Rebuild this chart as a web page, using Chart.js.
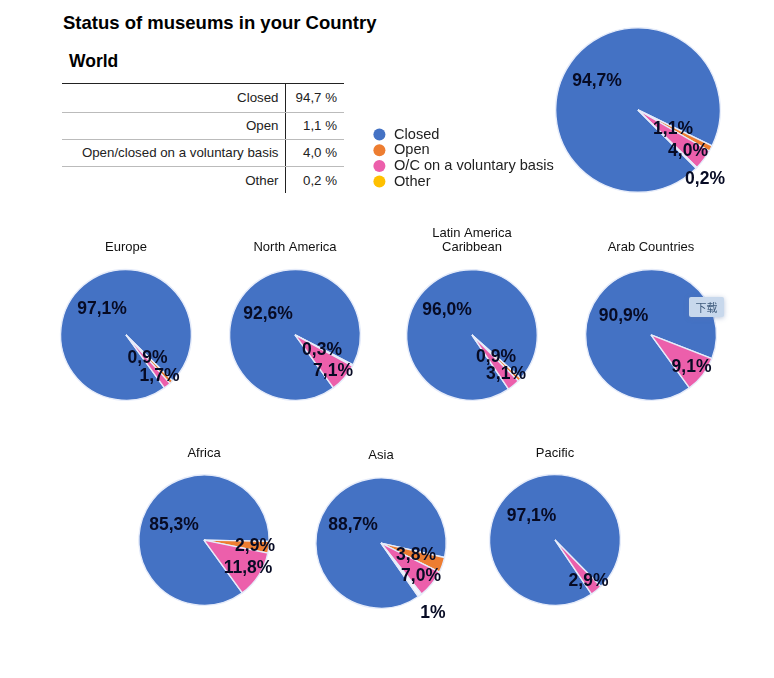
<!DOCTYPE html>
<html><head><meta charset="utf-8">
<script src="https://cdn.jsdelivr.net/npm/chart.js@4"></script>
<style>
html,body{margin:0;padding:0;background:#fff;width:774px;height:678px;overflow:hidden;font-family:"Liberation Sans",Arial,sans-serif;color:#111}
canvas{position:absolute}
.abs{position:absolute;white-space:nowrap}
#main{left:63px;top:12px;font-size:18.5px;font-weight:bold;line-height:22px;color:#000}
#region{left:69px;top:51px;font-size:17.5px;font-weight:bold;line-height:20px;color:#000}
table{position:absolute;left:62px;top:83px;width:282px;border-collapse:collapse;border-top:1.6px solid #222;table-layout:fixed;font-size:13.3px;color:#222}
td{height:26px;padding:0;border-bottom:1px solid #bbb;text-align:right;line-height:26px}
tr:first-child td{height:26.5px;line-height:28px}
tr:last-child td{border-bottom:none;height:26px;line-height:25px}
td.k{width:223px;padding-right:6px;border-right:1.6px solid #222;box-sizing:border-box}
td.v{padding-right:7px}
#dl{left:689px;top:297px;width:35px;height:20px;line-height:20px;text-align:center;background:#c8d8ec;border-radius:2px;box-shadow:0 1px 5px rgba(90,120,170,.45);font:11px/20px "Noto Sans CJK SC",sans-serif;color:#3f5b7c}
</style></head><body>
<div class="abs" id="main"></div>
<div class="abs" id="region"></div>
<table id="tbl"></table>
<canvas id="world"></canvas>
<div id="pies"></div>
<div class="abs" id="dl">下载</div>
<script>
const mainTitle = "Status of museums in your Country";
const regionTitle = "World";
const seriesNames = ["Closed", "Open", "O/C on a voluntary basis", "Other"];
const tableNames = ["Closed", "Open", "Open/closed on a voluntary basis", "Other"];
const tableValues = ["94,7 %", "1,1 %", "4,0 %", "0,2 %"];

const worldValues = [94.7, 1.1, 4.0, 0.2];
const europeValues = [97.1, 0.9, 1.7, 0];
const northAmericaValues = [92.6, 0.3, 7.1, 0];
const latinValues = [96.0, 0.9, 3.1, 0];
const arabValues = [90.9, 0, 9.1, 0];
const africaValues = [85.3, 2.9, 11.8, 0];
const asiaValues = [88.7, 3.8, 7.0, 1];
const pacificValues = [97.1, 0, 2.9, 0];

const legendColors = ["#4472C4", "#ED7D31", "#EC5FAB", "#FFC000"];
const sliceColors = ["#4472C4", "#ED7D31", "#EC5FAB", "#F4F6FD"];
const edge = "#E6ECFA";
const ink = "#070B24";
const R = 65;

function fmt(v){ return v === 1 ? "1%" : v.toFixed(1).replace(".", ",") + "%"; }

document.getElementById("main").textContent = mainTitle;
document.getElementById("region").textContent = regionTitle;
document.getElementById("tbl").innerHTML = tableNames.map((n,i)=>`<tr><td class="k">${n}</td><td class="v">${tableValues[i]}</td></tr>`).join("");

const labelPlugin = {
  id: "sliceLabels",
  afterDatasetsDraw(chart, args, opts){
    const arc = chart.getDatasetMeta(0).data[0];
    const ctx = chart.ctx;
    ctx.save();
    ctx.font = "bold 17.5px 'Liberation Sans', Arial, sans-serif";
    ctx.fillStyle = ink;
    ctx.textAlign = "center";
    ctx.textBaseline = "middle";
    chart.data.datasets[0].data.forEach((v,i)=>{
      const o = opts.offsets[i];
      if(!o) return;
      ctx.fillText(fmt(v), arc.x + o[0], arc.y + o[1]);
    });
    ctx.restore();
  }
};
const legendNudge = {
  id: "legendNudge",
  beforeDraw(chart){ chart.legend.bottom -= 3; }
};

function baseOptions(rotation, offsets){
  return {
    responsive:false, animation:false, rotation,
    plugins:{ tooltip:{enabled:false}, legend:{display:false}, sliceLabels:{offsets} }
  };
}
function dataset(values){
  return { labels:seriesNames, datasets:[{ data:values, backgroundColor:sliceColors, borderColor:edge, borderWidth:1.4 }] };
}

/* World pie with the native legend */
(function(){
  const c = document.getElementById("world");
  c.width = 365; c.height = 180; c.style.left = "365px"; c.style.top = "20px";
  const opt = baseOptions(135, [[-41,-29],[35,19],[50,41],[67,69]]);
  opt.layout = {padding:{top:7,bottom:7,right:9,left:6}};
  opt.plugins.legend = {
    display:true, position:"left", align:"end", maxWidth:184,
    labels:{ usePointStyle:true, pointStyle:"circle", boxWidth:15.4, boxHeight:8.5, padding:1.1,
      color:"#222", font:{family:"'Liberation Sans', Arial, sans-serif", size:14.6, lineHeight:1},
      generateLabels(){ return seriesNames.map((t,i)=>({text:t, fillStyle:legendColors[i], strokeStyle:legendColors[i], lineWidth:0, pointStyle:"circle", hidden:false, index:i, fontColor:"#222"})); } }
  };
  new Chart(c, {type:"pie", data:dataset(worldValues), options:opt, plugins:[labelPlugin, legendNudge]});
})();

/* Regional pies */
const regionPies = [
  {title:"Europe", values:europeValues, cx:125.5, cy:335, ty:248, rot:144, off:[[-24,-26],[21.5,23],[33.5,41]]},
  {title:"North America", values:northAmericaValues, cx:295, cy:335, ty:248, rot:144, off:[[-27,-21],[27,15],[38,36]]},
  {title:["Latin America","Caribbean"], values:latinValues, cx:472, cy:335, ty:233, rot:146, off:[[-25,-25],[24,22],[34,39]]},
  {title:"Arab Countries", values:arabValues, cx:650.5, cy:335, ty:248, rot:144, off:[[-27.5,-19],null,[40.5,32]]},
  {title:"Africa", values:africaValues, cx:204, cy:540.5, ty:454, rot:144, off:[[-30,-15],[51,6.5],[44,28.5]]},
  {title:"Asia", values:asiaValues, cx:381, cy:543.5, ty:456, rot:145, off:[[-28,-17.5],[35,12.5],[40,33.5],[52,70.5]]},
  {title:"Pacific", values:pacificValues, cx:554.5, cy:540, ty:454, rot:146, off:[[-23.5,-24],null,[33.5,41]]}
];
const host = document.getElementById("pies");
regionPies.forEach(p=>{
  const lines = Array.isArray(p.title) ? p.title.length : 1;
  const lh = lines > 1 ? 14 : 15.6;
  const top = p.ty - lh/2;
  const titleH = lh*lines;
  const areaTop = p.cy - R - 1;
  const bottomPad = 22;
  const c = document.createElement("canvas");
  c.width = 176;
  c.height = Math.round(p.cy + R + 1 + bottomPad - top);
  c.style.left = (p.cx - 88) + "px";
  c.style.top = top + "px";
  host.appendChild(c);
  const opt = baseOptions(p.rot, p.off);
  opt.layout = {padding:{bottom:bottomPad}};
  opt.plugins.title = { display:true, text:p.title, color:"#111",
    font:{family:"'Liberation Sans', Arial, sans-serif", size:13, weight:"normal", lineHeight:lh/13},
    padding:{top:0, bottom:areaTop - top - titleH} };
  new Chart(c, {type:"pie", data:dataset(p.values), options:opt, plugins:[labelPlugin]});
});
</script>
</body></html>
